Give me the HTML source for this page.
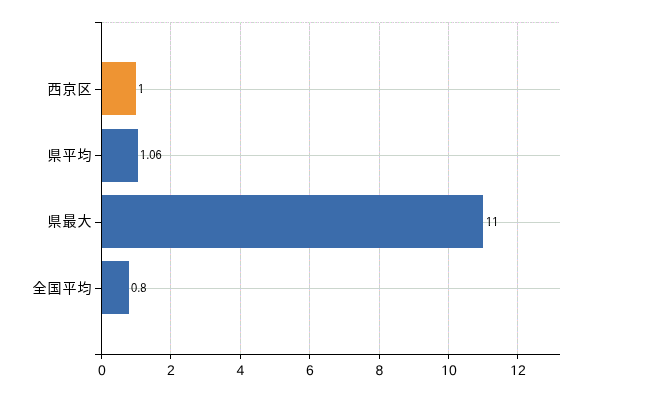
<!DOCTYPE html>
<html lang="ja">
<head>
<meta charset="utf-8">
<title>chart</title>
<style>
html,body{margin:0;padding:0;background:#fff;}
body{width:650px;height:400px;overflow:hidden;}
svg{display:block;}
.cat{font-family:"Liberation Sans","Noto Sans CJK JP",sans-serif;font-size:14px;letter-spacing:1px;fill:#000;text-anchor:end;}
.xl{font-family:"Liberation Sans","Noto Sans CJK JP",sans-serif;font-size:14px;fill:#000;text-anchor:middle;text-rendering:geometricPrecision;}
.val{font-family:"Liberation Sans","Noto Sans CJK JP",sans-serif;font-size:12px;fill:#000;text-anchor:start;}
</style>
</head>
<body>
<svg width="650" height="400" viewBox="0 0 650 400">
<rect x="0" y="0" width="650" height="400" fill="#ffffff"/>
<defs>
<pattern id="topdash" x="109" y="22" width="15" height="1" patternUnits="userSpaceOnUse">
<rect x="0" y="0" width="15" height="1" fill="#cbd6cd"/>
<rect x="0" y="0" width="1" height="1" fill="#ffffff"/>
<rect x="3" y="0" width="1" height="1" fill="#ffccff"/>
<rect x="5" y="0" width="1" height="1" fill="#ccffcc"/>
<rect x="6" y="0" width="1" height="1" fill="#ffccff"/>
<rect x="10" y="0" width="1" height="1" fill="#ffccff"/>
<rect x="11" y="0" width="1" height="1" fill="#ccffcc"/>
<rect x="13" y="0" width="1" height="1" fill="#ffccff"/>
</pattern>
<pattern id="vdash" x="0" y="21" width="1" height="5" patternUnits="userSpaceOnUse">
<rect x="0" y="0" width="1" height="5" fill="#cbd6cd"/>
<rect x="0" y="4" width="1" height="1" fill="#ffccff"/>
</pattern>
<pattern id="vdash2" x="0" y="62" width="1" height="6" patternUnits="userSpaceOnUse">
<rect x="0" y="0" width="1" height="6" fill="#cbd6cd"/>
<rect x="0" y="5" width="1" height="1" fill="#ccccff"/>
<rect x="0" y="0" width="1" height="1" fill="#ffcccc"/>
</pattern>
</defs>
<!-- grid -->
<g shape-rendering="crispEdges" fill="#cbd6cd">
<rect x="102" y="22" width="458" height="1" fill="url(#topdash)"/>
<rect x="102" y="89" width="458" height="1"/>
<rect x="102" y="155" width="458" height="1"/>
<rect x="102" y="222" width="458" height="1"/>
<rect x="102" y="288" width="458" height="1"/>
<rect x="170" y="23" width="1" height="40" fill="url(#vdash)"/><rect x="170" y="63" width="1" height="291" fill="url(#vdash2)"/>
<rect x="240" y="23" width="1" height="40" fill="url(#vdash)"/><rect x="240" y="63" width="1" height="291" fill="url(#vdash2)"/>
<rect x="309" y="23" width="1" height="40" fill="url(#vdash)"/><rect x="309" y="63" width="1" height="291" fill="url(#vdash2)"/>
<rect x="379" y="23" width="1" height="40" fill="url(#vdash)"/><rect x="379" y="63" width="1" height="291" fill="url(#vdash2)"/>
<rect x="448" y="23" width="1" height="40" fill="url(#vdash)"/><rect x="448" y="63" width="1" height="291" fill="url(#vdash2)"/>
<rect x="517" y="23" width="1" height="40" fill="url(#vdash)"/><rect x="517" y="63" width="1" height="291" fill="url(#vdash2)"/>
</g>
<!-- bars -->
<g shape-rendering="crispEdges">
<rect x="102" y="62" width="34" height="53" fill="#ee9433"/>
<rect x="102" y="129" width="36" height="53" fill="#3b6cab"/>
<rect x="102" y="195" width="381" height="53" fill="#3b6cab"/>
<rect x="102" y="261" width="27" height="53" fill="#3b6cab"/>
</g>
<!-- axes -->
<g shape-rendering="crispEdges" fill="#000">
<rect x="101" y="22" width="1" height="333"/>
<rect x="95" y="354" width="465" height="1"/>
<rect x="95" y="22" width="6" height="1"/>
<rect x="95" y="89" width="6" height="1"/>
<rect x="95" y="155" width="6" height="1"/>
<rect x="95" y="222" width="6" height="1"/>
<rect x="95" y="288" width="6" height="1"/>
<rect x="101" y="355" width="1" height="4"/>
<rect x="170" y="355" width="1" height="4"/>
<rect x="240" y="355" width="1" height="4"/>
<rect x="309" y="355" width="1" height="4"/>
<rect x="379" y="355" width="1" height="4"/>
<rect x="448" y="355" width="1" height="4"/>
<rect x="517" y="355" width="1" height="4"/>
</g>
<!-- category labels -->
<text class="cat" x="92.5" y="94">西京区</text>
<text class="cat" x="92.5" y="160">県平均</text>
<text class="cat" x="92.5" y="226">県最大</text>
<text class="cat" x="92.5" y="293">全国平均</text>
<!-- value labels -->
<text class="val" transform="translate(138,93) scale(0.93,1)">1</text>
<text class="val" transform="translate(140,159) scale(0.93,1)">1.06</text>
<text class="val" transform="translate(486,226) scale(0.93,1)" style="letter-spacing:1px">11</text>
<text class="val" transform="translate(131,292) scale(0.93,1)">0.8</text>
<!-- x labels -->
<text class="xl" x="102" y="375">0</text>
<text class="xl" x="171" y="375">2</text>
<text class="xl" x="240.500" y="375">4</text>
<text class="xl" x="310" y="375">6</text>
<text class="xl" x="379.5" y="375">8</text>
<text class="xl" x="449" y="375">10</text>
<text class="xl" x="518" y="375">12</text>
<!-- trim digit-one base serifs so the numerals read like the reference face -->
<g fill="#ffffff">
<rect x="138" y="92" width="2.8" height="1"/><rect x="142" y="92" width="2" height="1"/>
<rect x="140" y="158" width="2.8" height="1"/><rect x="144" y="158" width="2" height="1"/>
<rect x="486" y="225" width="2.8" height="1"/><rect x="490" y="225" width="5" height="1"/><rect x="496" y="225" width="2" height="1"/>
<rect x="442" y="374" width="2.76" height="1"/><rect x="446" y="374" width="3" height="1"/>
<rect x="511" y="374" width="2.76" height="1"/><rect x="515" y="374" width="3" height="1"/>
</g>
</svg>
</body>
</html>
